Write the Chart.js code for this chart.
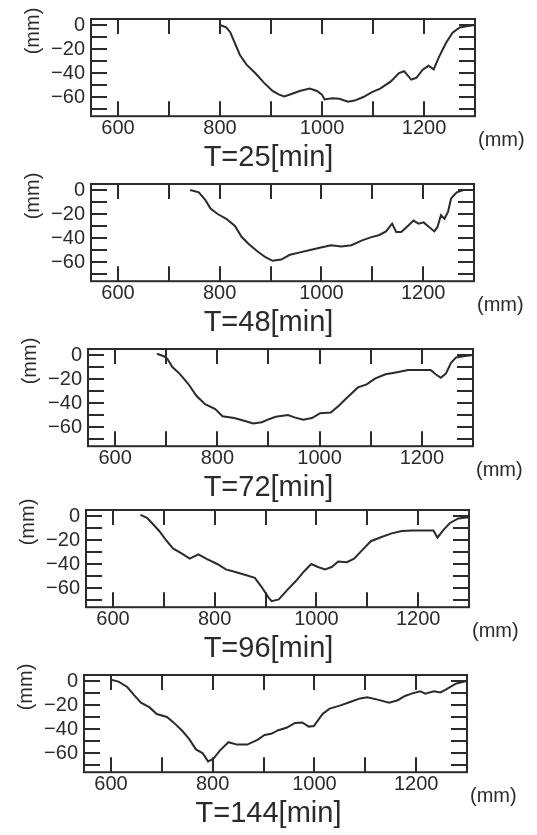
<!DOCTYPE html>
<html>
<head>
<meta charset="utf-8">
<script src="https://cdn.jsdelivr.net/npm/chart.js@4"></script>
<style>
  html, body { margin: 0; padding: 0; background: #fff; overflow: hidden; }
  #wrap { position: relative; width: 537px; height: 835px; }
  #wrap canvas { position: absolute; left: 0; }
</style>
</head>
<body>
<div id="wrap"></div>
<script>
// ----------------------
// DATA (mm)
// ----------------------
const titles = ["T=25[min]", "T=48[min]", "T=72[min]", "T=96[min]", "T=144[min]"];

const t25X = [800, 812, 820, 829, 839, 852, 869, 886, 903, 916, 926, 940, 956, 976, 990, 1000, 1005, 1020, 1034, 1051, 1064, 1081, 1098, 1114, 1135, 1151, 1161, 1175, 1185, 1198, 1209, 1219, 1229, 1243, 1256, 1270, 1283, 1300];
const t25Y = [0, -2, -6, -15, -25, -33, -40, -48, -55, -58, -59.5, -57.5, -55, -53, -55, -58, -62, -61, -61.5, -64, -63, -60, -56, -53, -47, -40, -38.5, -45.5, -44, -37, -34, -37, -27, -15, -6.5, -2, -1, 0];

const t48X = [742, 759, 772, 782, 796, 813, 830, 843, 857, 874, 890, 904, 921, 938, 958, 978, 999, 1019, 1039, 1059, 1080, 1097, 1114, 1127, 1139, 1147, 1157, 1171, 1181, 1191, 1201, 1222, 1228, 1235, 1242, 1249, 1255, 1266, 1279, 1300];
const t48Y = [0, -2, -8.5, -15.5, -20, -24, -30, -39, -45, -51, -56, -59, -58, -54, -52, -50, -48, -46, -47, -46, -42, -39.5, -37.5, -34.5, -28, -35, -35, -29.5, -25.5, -28, -27, -34.5, -31, -21, -24, -18, -7, -2, 0, 0];

const t72X = [682, 695, 702, 712, 726, 743, 759, 776, 796, 810, 833, 854, 870, 887, 901, 914, 938, 951, 968, 985, 1001, 1022, 1038, 1055, 1075, 1092, 1109, 1129, 1149, 1173, 1197, 1217, 1227, 1237, 1247, 1257, 1267, 1281, 1300];
const t72Y = [1, -1, -3, -10, -15.5, -24, -34, -41, -45, -51, -52.5, -55, -57, -56, -53.5, -51.5, -50, -52, -54, -52.5, -48.5, -48, -42, -35, -27, -24.5, -19.5, -16, -14.5, -12.5, -12.5, -12.5, -16, -19, -15.5, -6.5, -2, -1, 0];

const t96X = [654, 667, 677, 691, 704, 718, 734, 751, 758, 768, 785, 805, 822, 839, 859, 879, 892, 906, 912, 926, 942, 960, 976, 990, 1003, 1017, 1030, 1043, 1060, 1074, 1091, 1107, 1128, 1148, 1168, 1188, 1215, 1230, 1238, 1249, 1262, 1279, 1300];
const t96Y = [1, -1.5, -6, -12.5, -20, -27, -31, -35.5, -34, -32, -36, -40, -44.5, -46.5, -49, -51.5, -59, -68, -71, -69.5, -62, -54, -46, -40, -42.5, -44.5, -42.5, -38, -38.5, -35.5, -28, -21, -17.5, -14.5, -12.5, -12, -12, -12, -18, -12, -6, -2, -1];

const t144X = [600, 615, 632, 646, 659, 676, 690, 710, 723, 740, 754, 767, 780, 791, 801, 814, 831, 848, 868, 888, 902, 915, 929, 945, 962, 976, 989, 999, 1016, 1030, 1050, 1070, 1090, 1104, 1124, 1147, 1164, 1178, 1191, 1208, 1218, 1235, 1248, 1259, 1279, 1300];
const t144Y = [1, -0.5, -5, -12, -18, -22, -27.5, -30, -34.5, -41.5, -48.5, -57, -60, -67, -65, -58, -51, -53, -53, -49, -45, -44, -41, -39, -35, -34.5, -38, -37.5, -27.5, -23, -20.5, -17.5, -14.5, -13.5, -15.5, -18, -16, -12.5, -10.5, -8.5, -10.5, -8.5, -9.5, -7, -2, 0];

const seriesX = [t25X, t48X, t72X, t96X, t144X];
const seriesY = [t25Y, t48Y, t72Y, t96Y, t144Y];

// axis ranges
const xMin = 547, xMax = 1300, xStep = 100;
const yMin = -76, yMax = 5, yStep = 10;

// ----------------------
// LAYOUT (scanned panels drift a little to the left)
// ----------------------
const panelTop = [0, 165, 330, 491, 656];
const boxLeft = [91, 91, 88, 86, 84];
const boxRight = [475, 474, 473, 469, 467];

const INK = "#2b2b2b";
const FONT = '"Liberation Sans", Arial, Helvetica, sans-serif';
Chart.defaults.font.family = FONT;
Chart.defaults.color = INK;

// frame, inward tick marks and the two "(mm)" unit labels
const framePlugin = {
    id: "frame",
    afterDraw(chart) {
        const { ctx, chartArea: a, scales: { x, y } } = chart;
        ctx.save();
        ctx.strokeStyle = INK;
        ctx.lineWidth = 2;
        ctx.strokeRect(a.left, a.top, a.right - a.left, a.bottom - a.top);
        ctx.beginPath();
        x.ticks.forEach(t => {
            if (t.value >= x.max) return;
            const px = Math.round(x.getPixelForValue(t.value));
            ctx.moveTo(px, a.top); ctx.lineTo(px, a.top + 15);
            ctx.moveTo(px, a.bottom); ctx.lineTo(px, a.bottom - 15);
        });
        y.ticks.forEach(t => {
            const py = Math.round(y.getPixelForValue(t.value));
            ctx.moveTo(a.left, py); ctx.lineTo(a.left + 16, py);
            ctx.moveTo(a.right, py); ctx.lineTo(a.right - 16, py);
        });
        ctx.stroke();

        ctx.fillStyle = INK;
        ctx.font = "20px " + FONT;
        ctx.textBaseline = "middle";
        ctx.textAlign = "left";
        ctx.fillText("(mm)", a.right + 3, a.bottom + 24);

        ctx.translate(a.left - 58, a.top + 12);
        ctx.rotate(-Math.PI / 2);
        ctx.textAlign = "center";
        ctx.fillText("(mm)", 0, 0);
        ctx.restore();
    }
};

const fmt = v => (v < 0 ? "\u2212" + Math.abs(v) : String(v));

titles.forEach((title, i) => {
    const canvas = document.createElement("canvas");
    canvas.width = 537;
    canvas.height = 178;
    canvas.style.top = panelTop[i] + "px";
    document.getElementById("wrap").appendChild(canvas);

    const points = seriesX[i].map((xv, k) => ({ x: xv, y: seriesY[i][k] }));

    new Chart(canvas, {
        type: "line",
        data: {
            datasets: [{
                data: points,
                borderColor: INK,
                borderWidth: 2,
                pointRadius: 0,
                tension: 0
            }]
        },
        options: {
            responsive: false,
            animation: false,
            devicePixelRatio: 1,
            layout: { padding: { top: 19, left: 0, right: 0, bottom: 3 } },
            plugins: {
                legend: { display: false },
                tooltip: { enabled: false },
                title: {
                    display: true,
                    position: "bottom",
                    text: title,
                    color: INK,
                    font: { size: 29, weight: "normal" },
                    padding: { top: 0, bottom: 0 }
                }
            },
            scales: {
                x: {
                    type: "linear",
                    min: xMin,
                    max: xMax,
                    grid: { display: false, drawTicks: false },
                    border: { display: false },
                    ticks: {
                        stepSize: xStep,
                        includeBounds: false,
                        autoSkip: false,
                        maxRotation: 0,
                        padding: 0,
                        font: { size: 20 },
                        callback: v => (v % 200 === 0 && v < xMax ? fmt(v) : "")
                    }
                },
                y: {
                    min: yMin,
                    max: yMax,
                    grid: { display: false, drawTicks: false },
                    border: { display: false },
                    ticks: {
                        stepSize: yStep,
                        includeBounds: false,
                        autoSkip: false,
                        padding: 6,
                        font: { size: 20 },
                        callback: v => (v % 20 === 0 ? fmt(v) : "")
                    },
                    afterFit: s => { s.width = boxLeft[i]; }
                },
                y2: {
                    position: "right",
                    display: true,
                    grid: { display: false, drawTicks: false },
                    border: { display: false },
                    ticks: { display: false },
                    afterFit: s => { s.width = 537 - boxRight[i]; }
                }
            }
        },
        plugins: [framePlugin]
    });
});
</script>
</body>
</html>
